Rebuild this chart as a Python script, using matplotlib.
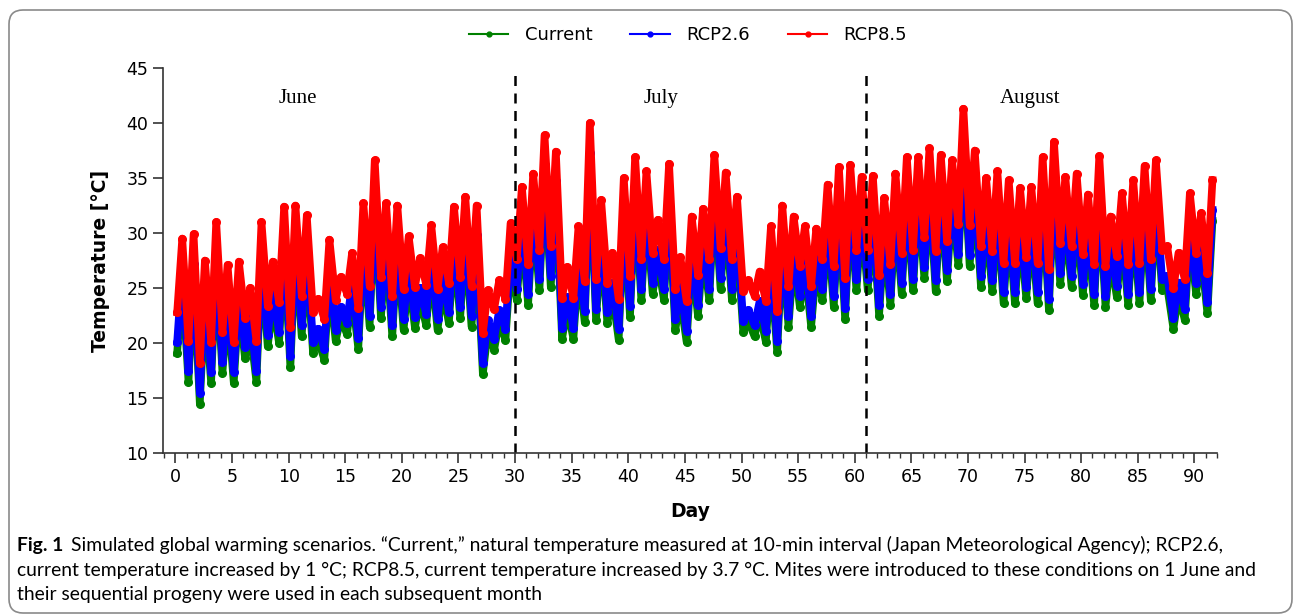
import matplotlib.pyplot as plt
from matplotlib.lines import Line2D
from matplotlib.patches import FancyBboxPatch
from matplotlib.ticker import MultipleLocator

# daily minimum / maximum of the "Current" series (degC), days 0..91
cur_min = [19.1, 16.5, 14.5, 16.4, 17.3, 16.4, 18.6, 16.5, 19.7, 20.0,
           17.8, 20.6, 19.1, 18.5, 20.2, 20.8, 19.5, 21.5, 22.3, 20.6,
           21.2, 21.4, 21.6, 21.2, 21.8, 22.3, 21.5, 17.2, 19.4, 20.3,
           23.9, 23.5, 24.8, 25.1, 20.4, 20.4, 21.9, 22.1, 21.8, 20.3,
           22.4, 23.9, 24.5, 23.9, 21.2, 20.1, 22.5, 23.9, 24.9, 23.9,
           21.0, 20.6, 20.1, 19.2, 21.5, 23.3, 21.5, 23.9, 23.3, 22.2,
           24.8, 24.8, 22.5, 23.5, 24.5, 24.8, 25.9, 24.7, 25.6, 27.1,
           27.0, 25.1, 24.7, 23.6, 23.6, 24.1, 23.6, 23.0, 25.4, 25.1,
           24.4, 23.5, 23.3, 24.2, 23.5, 23.6, 23.9, 24.8, 21.3, 22.1,
           24.5, 22.7]
cur_max = [25.8, 26.2, 23.8, 27.3, 23.4, 23.7, 21.3, 27.3, 23.7, 28.7,
           28.8, 27.9, 20.3, 25.7, 22.3, 24.5, 29.0, 32.9, 29.0, 28.8,
           26.0, 24.0, 27.0, 25.0, 28.7, 29.6, 28.8, 21.1, 22.0, 27.2,
           30.5, 31.7, 35.2, 33.7, 23.2, 26.9, 36.3, 29.3, 24.5, 31.3,
           33.2, 31.9, 27.5, 32.6, 24.1, 27.8, 28.5, 33.4, 31.8, 29.6,
           22.0, 22.8, 26.9, 28.8, 27.8, 26.9, 26.7, 30.7, 32.3, 32.5,
           31.4, 31.5, 29.5, 31.7, 33.2, 33.2, 34.0, 33.4, 32.9, 37.6,
           33.8, 31.3, 31.9, 31.1, 30.4, 30.5, 33.2, 34.6, 31.4, 31.7,
           29.8, 33.3, 27.8, 29.9, 31.1, 32.4, 32.9, 25.1, 24.5, 29.9,
           28.1, 31.1]
min_time = 0.15   # fraction of the day where the daily minimum sits
max_time = 0.6    # fraction of the day where the daily maximum sits

# scenario offsets from the caption
scenario_names = ['Current', 'RCP2.6', 'RCP8.5']
scenario_offsets = [0.0, 1.0, 3.7]
scenario_colors = ['green', 'blue', 'red']

month_names = ['June', 'July', 'August']
month_label_days = [10.8, 42.9, 75.5]
month_breaks = [30, 61]

caption_bold = 'Fig. 1'
caption_lines = [
    'Simulated global warming scenarios. \u201cCurrent,\u201d natural temperature measured at 10-min interval (Japan Meteorological Agency); RCP2.6,',
    'current temperature increased by 1 \u00b0C; RCP8.5, current temperature increased by 3.7 \u00b0C. Mites were introduced to these conditions on 1 June and',
    'their sequential progeny were used in each subsequent month',
]

W, H = 1293, 615
fig = plt.figure(figsize=(W / 100, H / 100), dpi=100)

# outer rounded frame, drawn in pixel units
bg = fig.add_axes([0, 0, 1, 1], zorder=-1)
bg.set_xlim(0, W)
bg.set_ylim(H, 0)
bg.axis('off')
bg.add_patch(FancyBboxPatch((9, 10), 1283, 603, boxstyle='round,pad=0,rounding_size=14',
                            fill=False, edgecolor='#8a8a8a', lw=1.2))

ax = fig.add_axes([163 / W, 1 - 453 / H, (1217 - 163) / W, (453 - 68) / H])

# build the time axis: min then max for each day
t = []
base = []
for i in range(len(cur_min)):
    t += [i + min_time, i + max_time]
    base += [cur_min[i], cur_max[i]]

for name, off, col in zip(scenario_names, scenario_offsets, scenario_colors):
    ax.plot(t, [v + off for v in base], '.-', color=col, lw=5.5, ms=11, label=name)

for d in month_breaks:
    ax.axvline(d, color='black', ls='--', lw=1.8, dashes=(4, 3))

for name, d in zip(month_names, month_label_days):
    ax.text(d, 42.2, name, ha='center', va='center', fontsize=15, family='Liberation Serif')

ax.set_xlim(-1.1, 92.0)
ax.set_ylim(10, 45)
ax.xaxis.set_major_locator(MultipleLocator(5))
ax.xaxis.set_minor_locator(MultipleLocator(1))
ax.yaxis.set_major_locator(MultipleLocator(5))
ax.spines['top'].set_visible(False)
ax.spines['right'].set_visible(False)
for s in ['left', 'bottom']:
    ax.spines[s].set_linewidth(1.2)
    ax.spines[s].set_color('#333333')
ax.tick_params(which='major', length=7, width=1.2, labelsize=12.5, color='#333333')
ax.tick_params(which='minor', length=3.5, width=1.0, color='#333333')
ax.set_xlabel('Day', fontsize=13.5, fontweight='bold', labelpad=12)
ax.set_ylabel('Temperature [\u00b0C]', fontsize=13.5, fontweight='bold', labelpad=12)

handles = [Line2D([], [], color=c, marker='.', ms=7, lw=1.5) for c in scenario_colors]
fig.legend(handles, scenario_names, loc='center', bbox_to_anchor=(688 / W, 1 - 35 / H),
           ncol=3, frameon=False, fontsize=13, handlelength=2.2, handletextpad=0.9,
           columnspacing=2.1)

# caption
cap_font = 'Lato'
cap_size = 13.9
fb = fig.text(17 / W, 1 - 545 / H, caption_bold, fontsize=cap_size, fontweight='bold',
              family=cap_font, va='center')
fig.canvas.draw()
bx = fb.get_window_extent().x1
fig.text((bx + 8) / W, 1 - 545 / H, caption_lines[0], fontsize=cap_size, family=cap_font, va='center')
for k, line in enumerate(caption_lines[1:]):
    fig.text(17 / W, 1 - (570 + 24.5 * k) / H, line, fontsize=cap_size, family=cap_font, va='center')

fig.savefig('out.png', dpi=100)
